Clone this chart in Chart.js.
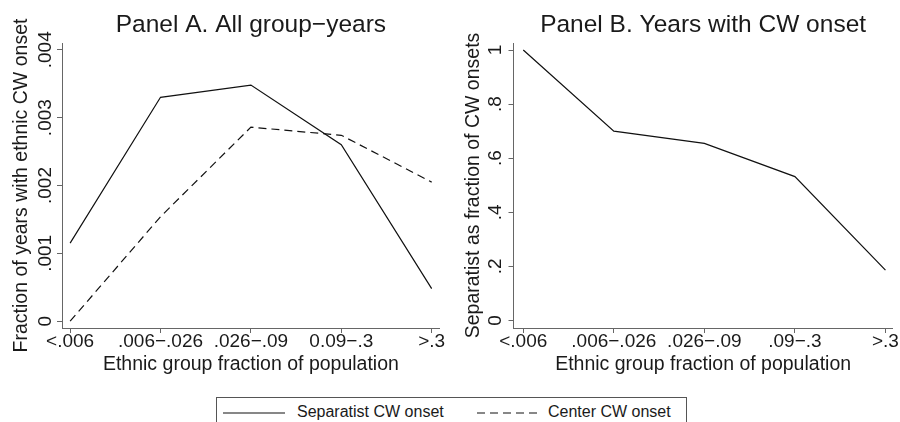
<!DOCTYPE html>
<html>
<head>
<meta charset="utf-8">
<script src="https://cdn.jsdelivr.net/npm/chart.js@4.4.1/dist/chart.umd.min.js"></script>
<style>
  body { margin: 0; background: #fff; }
  #wrap { position: relative; width: 900px; height: 422px; overflow: hidden; font-family: "Liberation Sans", Arial, sans-serif; color: #1a1a1a; }
  canvas { position: absolute; top: 0; }
  #panelA { left: 0; }
  #panelB { left: 450px; }
  #legend { position: absolute; left: 216px; top: 397px; width: 471px; height: 40px; border: 1px solid #555; box-sizing: border-box; }
  #legend svg { position: absolute; top: 14px; }
  #legend span { position: absolute; top: 5px; font-size: 16px; line-height: 18px; white-space: nowrap; }
</style>
</head>
<body>
<div id="wrap">
  <canvas id="panelA" width="450" height="390"></canvas>
  <canvas id="panelB" width="450" height="390"></canvas>
  <div id="legend">
    <svg style="left:6px" width="62" height="2"><line x1="0" y1="1" x2="62" y2="1" stroke="#111" stroke-width="1.2"/></svg>
    <span style="left:80px">Separatist CW onset</span>
    <svg style="left:260px" width="62" height="2"><line x1="0" y1="1" x2="62" y2="1" stroke="#111" stroke-width="1.2" stroke-dasharray="8,5"/></svg>
    <span style="left:331px">Center CW onset</span>
  </div>
</div>
<script>
// ----------- data ------------ //
let groupSizeA = ["<.006", ".006\u2212.026", ".026\u2212.09", "0.09\u2212.3", ">.3"];
let groupSizeB = ["<.006", ".006\u2212.026", ".026\u2212.09", ".09\u2212.3", ">.3"];

let separatistOnset = [0.00115, 0.0033, 0.00348, 0.0026, 0.00048];
let centerOnset = [0.0, 0.00154, 0.00286, 0.00274, 0.00205];
let separatistShare = [1.0, 0.70, 0.655, 0.532, 0.186];

let yTicksA = [0, 0.001, 0.002, 0.003, 0.004];
let yLabelsA = ["0", ".001", ".002", ".003", ".004"];
let yTicksB = [0, 0.2, 0.4, 0.6, 0.8, 1];
let yLabelsB = ["0", ".2", ".4", ".6", ".8", "1"];

Chart.defaults.font.family = '"Liberation Sans", Arial, sans-serif';
Chart.defaults.color = "#1a1a1a";

const AXIS = "#666";

function toPoints(values) {
  return values.map((v, i) => ({ x: i, y: v }));
}

// one panel = one chart
function makePanel(id, p) {
  return new Chart(id, {
    type: "line",
    data: { datasets: p.datasets },
    options: {
      responsive: false,
      animation: false,
      layout: { padding: { left: 0, top: 0, bottom: 0, right: p.padRight } },
      elements: { point: { radius: 0 }, line: { tension: 0, borderWidth: 1.2 } },
      plugins: {
        legend: { display: false },
        tooltip: { enabled: false },
        title: {
          display: true,
          text: p.title,
          fullSize: false,
          font: { size: 24.5, weight: "normal" },
          padding: { top: 10.3, bottom: 3.3 }
        }
      },
      scales: {
        x: {
          type: "linear",
          min: p.xMin,
          max: p.xMax,
          afterBuildTicks: s => { s.ticks = p.cats.map((c, i) => ({ value: i })); },
          afterFit: s => { s.height = 62; },
          grid: { drawOnChartArea: false, drawTicks: true, tickLength: 5, color: AXIS },
          border: { color: AXIS, width: 1 },
          ticks: {
            autoSkip: false, maxRotation: 0, padding: -3,
            font: { size: 19 },
            callback: v => p.cats[v]
          },
          title: {
            display: true,
            text: "Ethnic group fraction of population",
            font: { size: 19.5 },
            padding: { top: 0, bottom: 13.6 }
          }
        },
        y: {
          min: p.yMin,
          max: p.yMax,
          afterBuildTicks: s => { s.ticks = p.yTicks.map(v => ({ value: v })); },
          afterFit: s => { s.width = p.yWidth; },
          grid: { drawOnChartArea: false, drawTicks: true, tickLength: 5, color: AXIS },
          border: { color: AXIS, width: 1 },
          ticks: {
            autoSkip: false, minRotation: 90, maxRotation: 90,
            crossAlign: "center", padding: p.yPad,
            font: { size: 19 },
            callback: v => p.yLabels[p.yTicks.indexOf(v)]
          },
          title: {
            display: true,
            text: p.yTitle,
            font: { size: 19.5 },
            padding: { top: p.yTitlePad, bottom: 0 }
          }
        }
      }
    }
  });
}

makePanel("panelA", {
  title: "Panel A. All group\u2212years",
  cats: groupSizeA,
  xMin: -0.09, xMax: 4.09,
  yMin: -0.0001, yMax: 0.0041,
  yTicks: yTicksA, yLabels: yLabelsA,
  yWidth: 62, yPad: -7.5, yTitlePad: 9.5,
  padRight: 10.2,
  yTitle: "Fraction of years with ethnic CW onset",
  datasets: [
    { label: "Separatist CW onset", data: toPoints(separatistOnset), borderColor: "#111" },
    { label: "Center CW onset", data: toPoints(centerOnset), borderColor: "#111", borderDash: [8, 5] }
  ]
});

makePanel("panelB", {
  title: "Panel B. Years with CW onset",
  cats: groupSizeB,
  xMin: -0.108, xMax: 4.08,
  yMin: -0.028, yMax: 1.026,
  yTicks: yTicksB, yLabels: yLabelsB,
  yWidth: 63.5, yPad: 5, yTitlePad: 11.5,
  padRight: 7.3,
  yTitle: "Separatist as fraction of CW onsets",
  datasets: [
    { label: "Separatist share", data: toPoints(separatistShare), borderColor: "#111" }
  ]
});
</script>
</body>
</html>
